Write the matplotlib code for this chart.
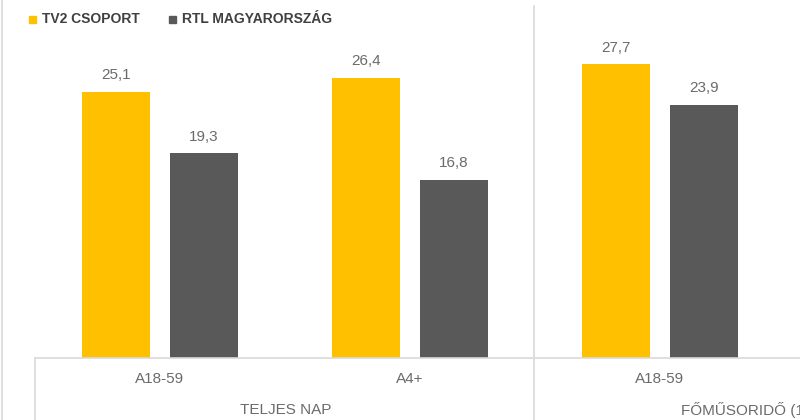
import matplotlib.pyplot as plt
from matplotlib.lines import Line2D

categories = ["A18-59", "A4+", "A18-59"]
groups = ["TELJES NAP", "FŐMŰSORIDŐ (19-23)"]
series = ["TV2 CSOPORT", "RTL MAGYARORSZÁG"]
tv2 = [25.1, 26.4, 27.7]
rtl = [19.3, 16.8, 23.9]
labels_tv2 = ["25,1", "26,4", "27,7"]
labels_rtl = ["19,3", "16,8", "23,9"]

yellow = "#FFC000"
grey = "#595959"
txt = "#6b6b6b"
fam = ["Liberation Sans", "DejaVu Sans"]

W, H = 800, 420
fig = plt.figure(figsize=(8, 4.2), dpi=100)
# plot area: baseline at y=358 px, full width
ax = fig.add_axes([0, (H - 358) / H, 1, 358 / H])
ax.set_xlim(-160 / 250, (800 - 160) / 250)
ax.set_ylim(0, 358 / 10.6)
ax.axis("off")

x = list(range(len(categories)))
w = 68 / 250
off = 44 / 250
b1 = ax.bar([i - off for i in x], tv2, w, color=yellow)
b2 = ax.bar([i + off for i in x], rtl, w, color=grey)
for bars, labs in [(b1, labels_tv2), (b2, labels_rtl)]:
    for r, lab in zip(bars, labs):
        ax.annotate(lab, (r.get_x() + r.get_width() / 2, r.get_height()),
                    xytext=(0, 7), textcoords="offset points", ha="center",
                    va="bottom", fontsize=11, color=txt, family=fam)

# category axis (two levels) drawn under the plot
def px(xp, yp):
    return xp / W, 1 - yp / H

line_kw = dict(color="#d9d9d9", lw=1.2)
fig.add_artist(Line2D(*zip(px(35, 358), px(800, 358)), **line_kw))
fig.add_artist(Line2D(*zip(px(35, 358), px(35, 420)), **line_kw))
fig.add_artist(Line2D(*zip(px(534, 6), px(534, 420)), **line_kw))
fig.add_artist(Line2D(*zip(px(2, 0), px(2, 420)), **line_kw))

for i, c in enumerate(categories):
    fig.text(*px(160 + 250 * i, 379), c, ha="center", va="center",
             fontsize=11, color=txt, family=fam)
fig.text(*px(286, 410), groups[0], ha="center", va="center",
         fontsize=11, color=txt, family=fam)
fig.text(*px(681, 410), groups[1], ha="left", va="center",
         fontsize=11, color=txt, family=fam)

# legend
for xs, col, name in [(29, yellow, series[0]), (169, grey, series[1])]:
    fig.patches.append(plt.Rectangle(px(xs, 23), 7 / W, 7 / H, color=col,
                                     transform=fig.transFigure, figure=fig))
    fig.text(*px(xs + 13, 19), name, ha="left", va="center", fontsize=10,
             color="#404040", family=fam, fontweight="bold")

fig.savefig("out.png", dpi=100, facecolor="white")
